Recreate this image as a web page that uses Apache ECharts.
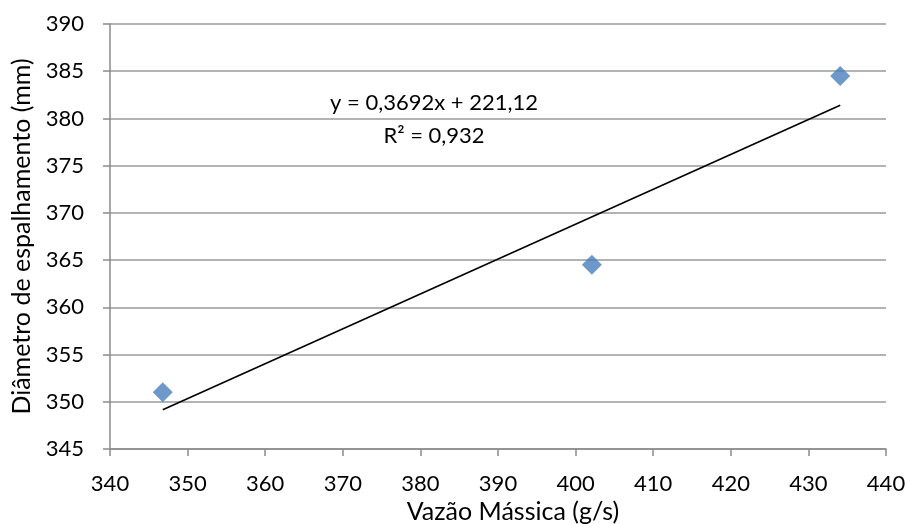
<!DOCTYPE html>
<html>
<head>
<meta charset="utf-8">
<script src="https://cdn.jsdelivr.net/npm/echarts@6/dist/echarts.min.js"></script>
<style>
  html, body { margin: 0; padding: 0; background: #fff; }
  #chart { width: 910px; height: 524px; }
</style>
</head>
<body>
<div id="chart"></div>
<script>
// Mass flow rate (g/s) against spread diameter (mm)
const vazaoMassica = [346.8, 402.1, 434.1];
const diametro = [351.0, 364.5, 384.5];

// Linear trend as reported in the equation label
const slope = 0.3692;
const intercept = 221.12;
const equationText = 'y = 0,3692x + 221,12';
const r2Text = 'R² = 0,932';

const xTicks = { min: 340, max: 440, interval: 10 };
const yTicks = { min: 345, max: 390, interval: 5 };

const FONT = 'Lato, "Noto Sans", sans-serif';

const xMin = Math.min(...vazaoMassica);
const xMax = Math.max(...vazaoMassica);
const trendData = [
  [xMin, slope * xMin + intercept],
  [xMax, slope * xMax + intercept]
];

const chart = echarts.init(document.getElementById('chart'), null, { renderer: 'canvas' });

chart.setOption({
  animation: false,
  backgroundColor: '#ffffff',
  grid: { left: 110, right: 24, top: 24, bottom: 75, containLabel: false },
  xAxis: {
    type: 'value',
    min: xTicks.min, max: xTicks.max, interval: xTicks.interval,
    axisLine: { show: true, lineStyle: { color: '#8a8a8a', width: 1.5 } },
    axisTick: { show: true, inside: false, length: 7, lineStyle: { color: '#8a8a8a', width: 1.5 } },
    splitLine: { show: false },
    axisLabel: { color: '#000', fontFamily: FONT, fontSize: 22, margin: 24 }
  },
  yAxis: {
    type: 'value',
    min: yTicks.min, max: yTicks.max, interval: yTicks.interval,
    name: 'Diâmetro de espalhamento (mm)',
    nameLocation: 'middle',
    nameGap: 72,
    nameTextStyle: { color: '#000', fontFamily: FONT, fontSize: 25 },
    axisLine: { show: true, lineStyle: { color: '#8a8a8a', width: 1.5 } },
    axisTick: { show: true, inside: false, length: 7, lineStyle: { color: '#8a8a8a', width: 1.5 } },
    splitLine: { show: true, lineStyle: { color: '#9a9a9a', width: 1.5 } },
    axisLabel: { color: '#000', fontFamily: FONT, fontSize: 22, margin: 26 }
  },
  graphic: [
    {
      type: 'text',
      x: 513, y: 512,
      style: {
        text: 'Vazão Mássica (g/s)',
        fill: '#000', font: '25px ' + FONT,
        textAlign: 'center', textVerticalAlign: 'middle'
      }
    },
    {
      type: 'text',
      x: 434, y: 103,
      style: {
        text: equationText,
        fill: '#000', font: '22px ' + FONT,
        textAlign: 'center', textVerticalAlign: 'middle'
      }
    },
    {
      type: 'text',
      x: 434, y: 136,
      style: {
        text: r2Text,
        fill: '#000', font: '22px ' + FONT,
        textAlign: 'center', textVerticalAlign: 'middle'
      }
    }
  ],
  series: [
    {
      name: 'Linear',
      type: 'line',
      data: trendData,
      symbol: 'none',
      lineStyle: { color: '#000', width: 1.6 },
      z: 2
    },
    {
      name: 'Diâmetro',
      type: 'scatter',
      data: vazaoMassica.map((x, i) => [x, diametro[i]]),
      symbol: 'diamond',
      symbolSize: [20, 20],
      itemStyle: { color: '#4A7EBB' },
      z: 3
    }
  ]
});
</script>
</body>
</html>
